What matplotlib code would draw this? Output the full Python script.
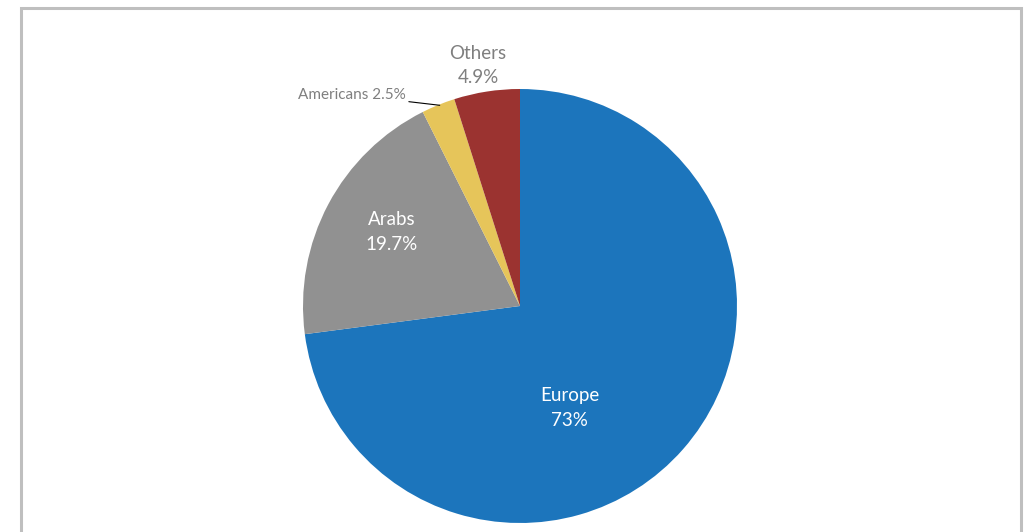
import matplotlib.pyplot as plt
from matplotlib.patches import Rectangle

labels = ['Europe', 'Arabs', 'Americans', 'Others']
shares = [73.0, 19.7, 2.5, 4.9]
pct_text = ['73%', '19.7%', '2.5%', '4.9%']
colors = ['#1c75bc', '#919191', '#e6c55a', '#9b3330']

plt.rcParams['font.family'] = ['Lato', 'DejaVu Sans']

fig = plt.figure(figsize=(10.24, 5.32), dpi=100)
fig.patch.set_facecolor('white')

# grey frame like the original chart area
fig.patches.append(Rectangle((20.5 / 1024, -0.05), 1000 / 1024, 1.05 - 7.5 / 532,
                             transform=fig.transFigure, fill=False,
                             edgecolor='#bfbfbf', linewidth=2.2))

r = 217
ax = fig.add_axes([(520 - r) / 1024, (532 - 306 - r) / 532, 2 * r / 1024, 2 * r / 532])
ax.pie(shares, colors=colors, startangle=90, counterclock=False, radius=1,
       wedgeprops=dict(linewidth=0))
ax.set_xlim(-1, 1)
ax.set_ylim(-1, 1)
ax.set_aspect('equal')
ax.axis('off')

# inside labels
ax.text(0.23, -0.47, f'{labels[0]}\n{pct_text[0]}', ha='center', va='center',
        color='white', fontsize=13.5, linespacing=1.55)
ax.text(-0.59, 0.34, f'{labels[1]}\n{pct_text[1]}', ha='center', va='center',
        color='white', fontsize=13.5, linespacing=1.55)

# outside labels
ax.text(-0.194, 1.11, f'{labels[3]}\n{pct_text[3]}', ha='center', va='center',
        color='#7f7f7f', fontsize=13.5, linespacing=1.5, clip_on=False)
ax.annotate(f'{labels[2]} {pct_text[2]}', xy=(-0.37, 0.925), xytext=(-0.525, 0.972),
            ha='right', va='center', color='#7f7f7f', fontsize=11,
            arrowprops=dict(arrowstyle='-', color='black', lw=0.8,
                            shrinkA=0, shrinkB=0),
            annotation_clip=False)

plt.savefig('out.png', dpi=100)
plt.close()
